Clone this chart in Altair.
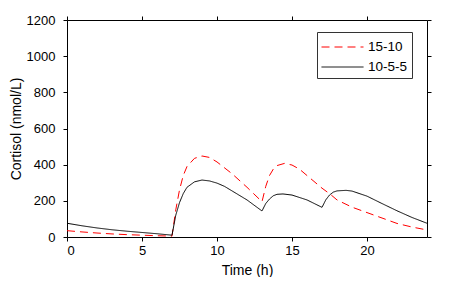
import altair as alt
import pandas as pd

series_names = ["15-10", "10-5-5"]

t_red = [0, 1, 2, 3, 4, 5, 6, 7, 7.25, 7.5, 7.75, 8, 8.5, 9, 9.5, 10, 11, 12, 13,
         13.25, 13.5, 13.75, 14, 14.5, 15, 15.5, 16, 17, 17.56, 18, 19, 20, 21, 22, 23, 24]
v_red = [35, 28, 22, 17, 13, 10, 7, 5, 150, 260, 340, 390, 435, 448, 440, 415, 350, 275, 195,
         280, 340, 375, 395, 407, 398, 375, 340, 270, 236, 205, 165, 135, 105, 75, 55, 39]

t_blk = [0, 1, 2, 3, 4, 5, 6, 7, 7.25, 7.5, 7.75, 8, 8.5, 9, 9.5, 10, 10.5, 11, 12, 12.9, 13,
         13.25, 13.5, 13.75, 14, 14.4, 15, 16, 17, 17.25, 17.5, 17.75, 18, 18.6, 19, 20, 21, 22, 23, 24]
v_blk = [76, 62, 50, 40, 32, 25, 18, 10, 120, 190, 240, 275, 305, 315, 310, 298, 280, 255, 205, 150, 144,
         185, 210, 228, 236, 238, 232, 205, 164, 205, 232, 248, 255, 258, 254, 226, 185, 145, 108, 76]

x_ticks = [0, 5, 10, 15, 20]
y_ticks = [0, 200, 400, 600, 800, 1000, 1200]

df = pd.concat([
    pd.DataFrame({"t": t_red, "v": v_red, "s": series_names[0]}),
    pd.DataFrame({"t": t_blk, "v": v_blk, "s": series_names[1]}),
])

font = "Liberation Sans"
xs = alt.Scale(domain=[0, 24], nice=False, zero=False)
ys = alt.Scale(domain=[0, 1200], nice=False)

def make_legend():
    return alt.Legend(title=None, orient="none", legendX=250, legendY=12,
                      strokeColor="#333333", fillColor="white", padding=4,
                      symbolType="M-1,0L3,0", symbolSize=441, symbolStrokeWidth=1,
                      labelFontSize=13.5, labelFont=font, labelColor="#000000",
                      rowPadding=2, labelOffset=25, symbolOffset=0)

lines = alt.Chart(df).mark_line(strokeWidth=1, clip=True).encode(
    x=alt.X("t:Q", scale=xs, axis=alt.Axis(values=x_ticks, title="Time (h)", grid=False,
            tickSize=4, labelFontSize=13, titleFontSize=14, titleFontWeight="normal",
            labelPadding=3, titlePadding=6, domain=False, format="d")),
    y=alt.Y("v:Q", scale=ys, axis=alt.Axis(values=y_ticks, title="Cortisol (nmol/L)", grid=False,
            tickSize=4, labelFontSize=13, titleFontSize=14, titleFontWeight="normal",
            labelPadding=8, titlePadding=3, domain=False, format="d")),
    color=alt.Color("s:N", scale=alt.Scale(domain=series_names, range=["#ff0000", "#000000"]),
                    legend=make_legend()),
    strokeDash=alt.StrokeDash("s:N", scale=alt.Scale(domain=series_names, range=[[8, 5], [1, 0]]),
                              legend=make_legend()),
    detail="s:N",
)

mirror = alt.Chart(df).mark_point(opacity=0).encode(
    x=alt.X("t:Q", scale=xs, axis=alt.Axis(orient="top", values=x_ticks, labels=False, title=None,
            grid=False, tickSize=4, domain=False)),
    y=alt.Y("v:Q", scale=ys, axis=alt.Axis(orient="right", values=y_ticks, labels=False, title=None,
            grid=False, tickSize=4, domain=False)),
)

chart = alt.layer(lines, mirror).resolve_axis(x="independent", y="independent").properties(
    width=360, height=217,
    autosize=alt.AutoSizeParams(type="none"),
    padding={"left": 59, "top": 12, "right": 30, "bottom": 40},
).configure_view(stroke="#000000", strokeWidth=1).configure_axis(
    labelFont=font, titleFont=font, tickColor="#000000", labelColor="#000000", titleColor="#000000"
)

chart.save("out.html", embed_options={"renderer": "svg", "actions": False})
